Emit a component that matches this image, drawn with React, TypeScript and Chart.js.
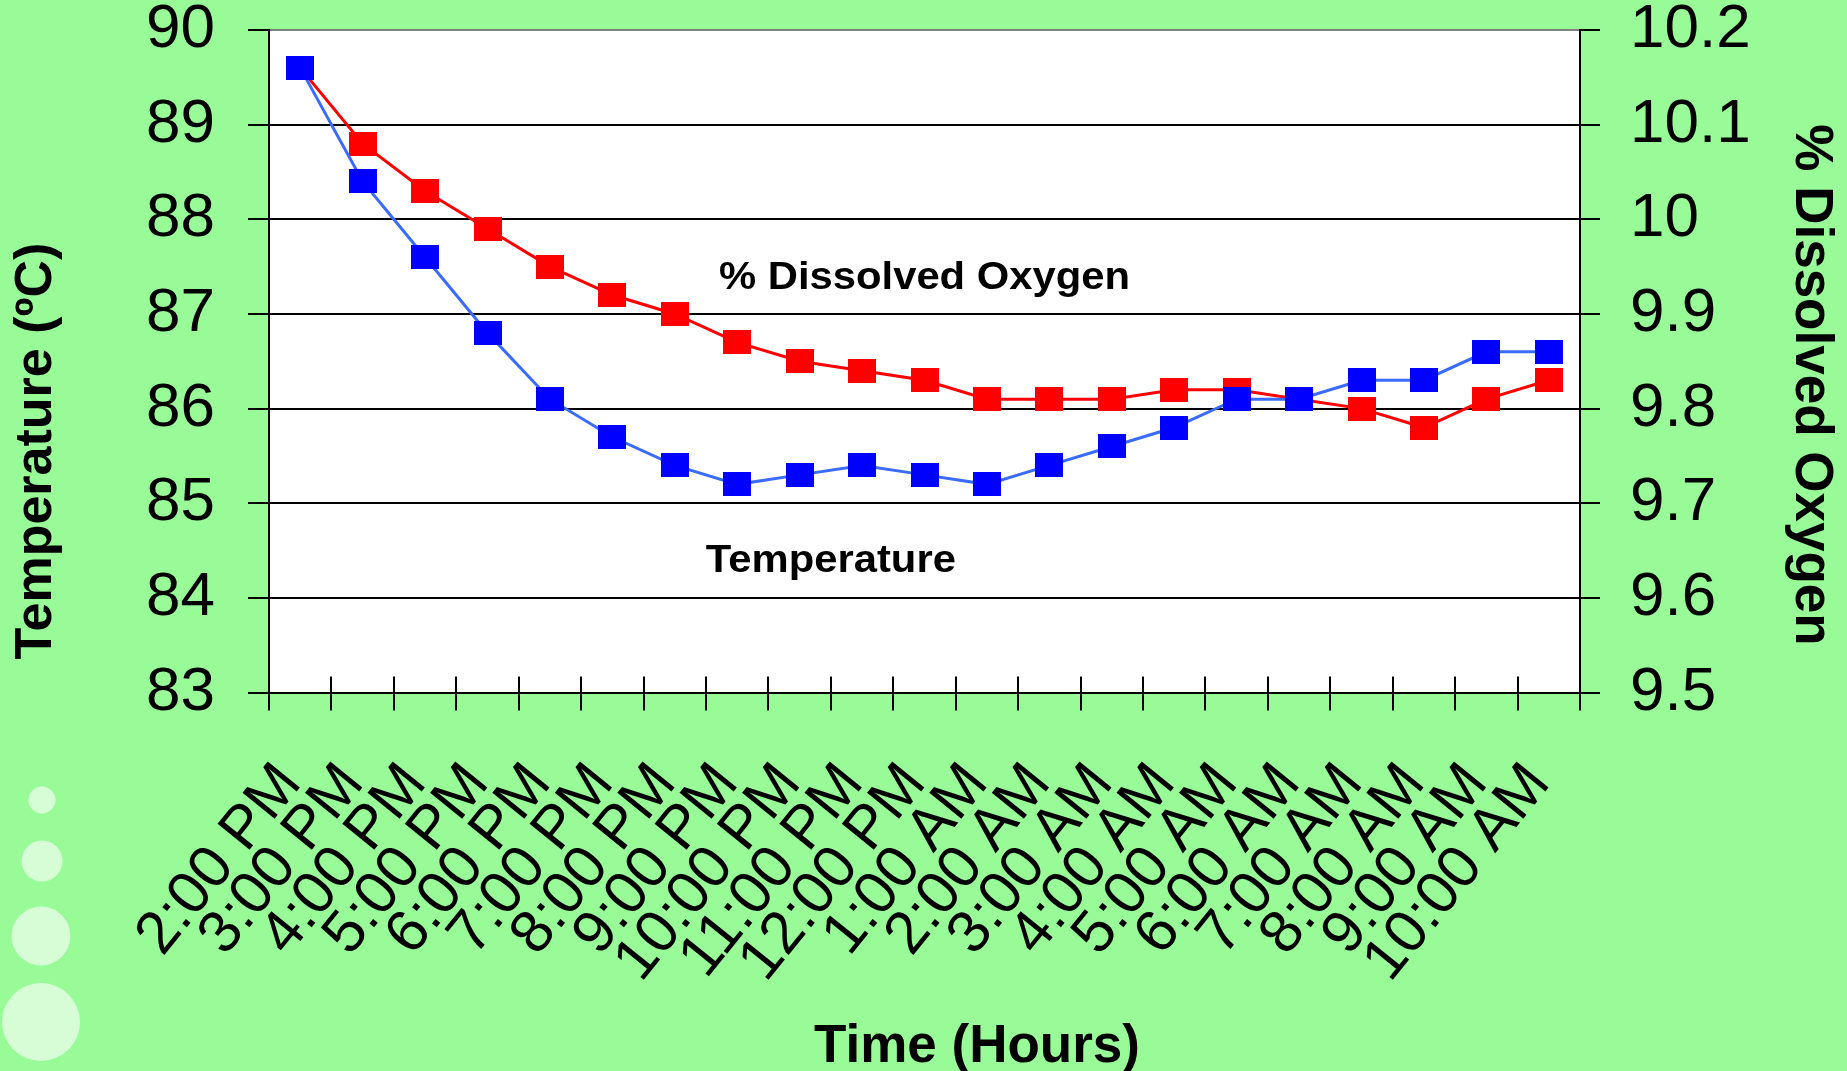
import React, { useEffect, useRef } from 'react';
import { Chart, registerables } from 'chart.js';

Chart.register(...registerables);

// ---------- data ----------
const categories = [
  '2:00 PM', '3:00 PM', '4:00 PM', '5:00 PM', '6:00 PM', '7:00 PM', '8:00 PM',
  '9:00 PM', '10:00 PM', '11:00 PM', '12:00 PM', '1:00 AM', '2:00 AM', '3:00 AM',
  '4:00 AM', '5:00 AM', '6:00 AM', '7:00 AM', '8:00 AM', '9:00 AM', '10:00 AM',
];

const temperature = [
  89.6, 88.4, 87.6, 86.8, 86.1, 85.7, 85.4, 85.2, 85.3, 85.4, 85.3,
  85.2, 85.4, 85.6, 85.8, 86.1, 86.1, 86.3, 86.3, 86.6, 86.6,
];

const dissolvedOxygen = [
  10.16, 10.08, 10.03, 9.99, 9.95, 9.92, 9.9, 9.87, 9.85, 9.84, 9.83,
  9.81, 9.81, 9.81, 9.82, 9.82, 9.81, 9.8, 9.78, 9.81, 9.83,
];

const temperatureRange = [83, 90];
const oxygenRange = [9.5, 10.2];

const axisTitles = {
  left: 'Temperature (ºC)',
  right: '% Dissolved Oxygen',
  bottom: 'Time (Hours)',
};

// in-plot labels: category position (fractional index) and temperature-axis value
const seriesLabels = [
  { text: '% Dissolved Oxygen', at: 10, value: 87.26 },
  { text: 'Temperature', at: 8.5, value: 84.27 },
];

// ---------- style ----------
const FONT = '"Liberation Sans", Arial, Helvetica, sans-serif';
const BG = '#98fb98';
const W = 1847;
const H = 1071;

function squareMarker(color: string, w: number, h: number) {
  const c = document.createElement('canvas');
  c.width = w;
  c.height = h;
  const g = c.getContext('2d')!;
  g.fillStyle = color;
  g.fillRect(0, 0, w, h);
  return c;
}

const decorPlugin = {
  id: 'decor',
  beforeDraw(chart: any) {
    const { ctx, chartArea } = chart;
    ctx.save();
    ctx.fillStyle = BG;
    ctx.fillRect(0, 0, W, H);
    ctx.fillStyle = '#ffffff';
    ctx.fillRect(chartArea.left, chartArea.top, chartArea.right - chartArea.left, chartArea.bottom - chartArea.top);
    // decorative bubbles
    ctx.fillStyle = '#d6fdd6';
    const bubbles = [
      [42, 800, 13.5],
      [42, 861, 20.5],
      [41, 936, 29.5],
      [41, 1022, 39],
    ];
    for (const [x, y, r] of bubbles) {
      ctx.beginPath();
      ctx.arc(x, y, r, 0, Math.PI * 2);
      ctx.fill();
    }
    ctx.restore();
  },
  afterDraw(chart: any) {
    const { ctx, chartArea, scales } = chart;
    ctx.save();
    // inner halves of the cross tick marks on the x axis
    ctx.strokeStyle = '#000';
    ctx.lineWidth = 2;
    ctx.beginPath();
    for (let i = 0; i <= categories.length; i++) {
      const px = Math.round(scales.x.getPixelForValue(i - 0.5));
      ctx.moveTo(px, chartArea.bottom - 16);
      ctx.lineTo(px, chartArea.bottom);
    }
    ctx.stroke();

    ctx.fillStyle = '#000';
    // axis titles
    ctx.font = `bold 52px ${FONT}`;
    ctx.textAlign = 'center';
    ctx.textBaseline = 'middle';
    ctx.save();
    ctx.translate(37, 451);
    ctx.rotate(-Math.PI / 2);
    ctx.fillText(axisTitles.left, 0, 0);
    ctx.restore();

    ctx.font = `bold 53px ${FONT}`;
    ctx.save();
    ctx.translate(1811, 385);
    ctx.rotate(Math.PI / 2);
    ctx.fillText(axisTitles.right, 0, 0);
    ctx.restore();

    ctx.textBaseline = 'alphabetic';
    ctx.fillText(axisTitles.bottom, 977, 1062);

    // series labels inside the plot
    ctx.font = `bold 38px ${FONT}`;
    for (const lab of seriesLabels) {
      const x = scales.x.getPixelForValue(lab.at);
      const y = scales.y.getPixelForValue(lab.value);
      ctx.save();
      ctx.translate(x, y);
      ctx.scale(1.1, 1);
      ctx.fillText(lab.text, 0, 0);
      ctx.restore();
    }
    ctx.restore();
  },
};

export default function App() {
  const ref = useRef<HTMLCanvasElement>(null);

  useEffect(() => {
    const canvas = ref.current!;
    const blue = squareMarker('#0000ff', 28, 24);
    const red = squareMarker('#ff0000', 28, 24);

    const chart = new Chart(canvas, {
      type: 'line',
      data: {
        labels: categories,
        datasets: [
          {
            label: 'Temperature',
            data: temperature,
            yAxisID: 'y',
            borderColor: '#3a6bff',
            borderWidth: 3,
            tension: 0,
            pointStyle: blue as any,
            pointRadius: 14,
            pointHoverRadius: 14,
          },
          {
            label: '% Dissolved Oxygen',
            data: dissolvedOxygen,
            yAxisID: 'y1',
            borderColor: '#ff0000',
            borderWidth: 3,
            tension: 0,
            pointStyle: red as any,
            pointRadius: 14,
            pointHoverRadius: 14,
          },
        ],
      },
      options: {
        animation: false,
        responsive: false,
        devicePixelRatio: 1,
        layout: { padding: { top: 30, left: 0, right: 0, bottom: 0 } },
        plugins: {
          legend: { display: false },
          tooltip: { enabled: false },
          title: { display: false },
        },
        events: [],
        scales: {
          x: {
            type: 'category',
            offset: true,
            grid: {
              display: true,
              drawOnChartArea: false,
              offset: true,
              tickLength: 18,
              color: '#000',
              lineWidth: 2,
            },
            border: { display: true, color: '#000', width: 2 },
            ticks: {
              autoSkip: false,
              minRotation: 51,
              maxRotation: 51,
              padding: 40,
              labelOffset: -10,
              color: '#000',
              font: { family: FONT, size: 60 },
            },
            afterFit: (s: any) => {
              s.height = 378.4;
              s.paddingLeft = 0;
              s.paddingRight = 0;
            },
          },
          y: {
            position: 'left',
            min: temperatureRange[0],
            max: temperatureRange[1],
            ticks: {
              stepSize: 1,
              padding: 33,
              color: '#000',
              font: { family: FONT, size: 62 },
            },
            grid: {
              color: (c: any) => (c.tick && c.tick.value === temperatureRange[1] ? '#808080' : '#000'),
              tickColor: '#000',
              lineWidth: 2,
              tickLength: 21,
            },
            border: { display: true, color: '#000', width: 2 },
            afterFit: (s: any) => {
              s.width = 269;
              s.paddingTop = 0;
              s.paddingBottom = 0;
            },
          },
          y1: {
            position: 'right',
            min: oxygenRange[0],
            max: oxygenRange[1],
            ticks: {
              stepSize: 0.1,
              padding: 30,
              color: '#000',
              font: { family: FONT, size: 62 },
              callback: (v: any) => String(Math.round(Number(v) * 10) / 10),
            },
            grid: {
              drawOnChartArea: false,
              color: '#000',
              lineWidth: 2,
              tickLength: 20,
            },
            border: { display: true, color: '#000', width: 2 },
            afterFit: (s: any) => {
              s.width = 267;
              s.paddingTop = 0;
              s.paddingBottom = 0;
            },
          },
        },
      },
      plugins: [decorPlugin],
    });

    return () => chart.destroy();
  }, []);

  return (
    <div style={{ position: 'fixed', left: 0, top: 0, width: W, height: H, background: BG }}>
      <canvas ref={ref} width={W} height={H} style={{ display: 'block', width: W, height: H }} />
    </div>
  );
}
